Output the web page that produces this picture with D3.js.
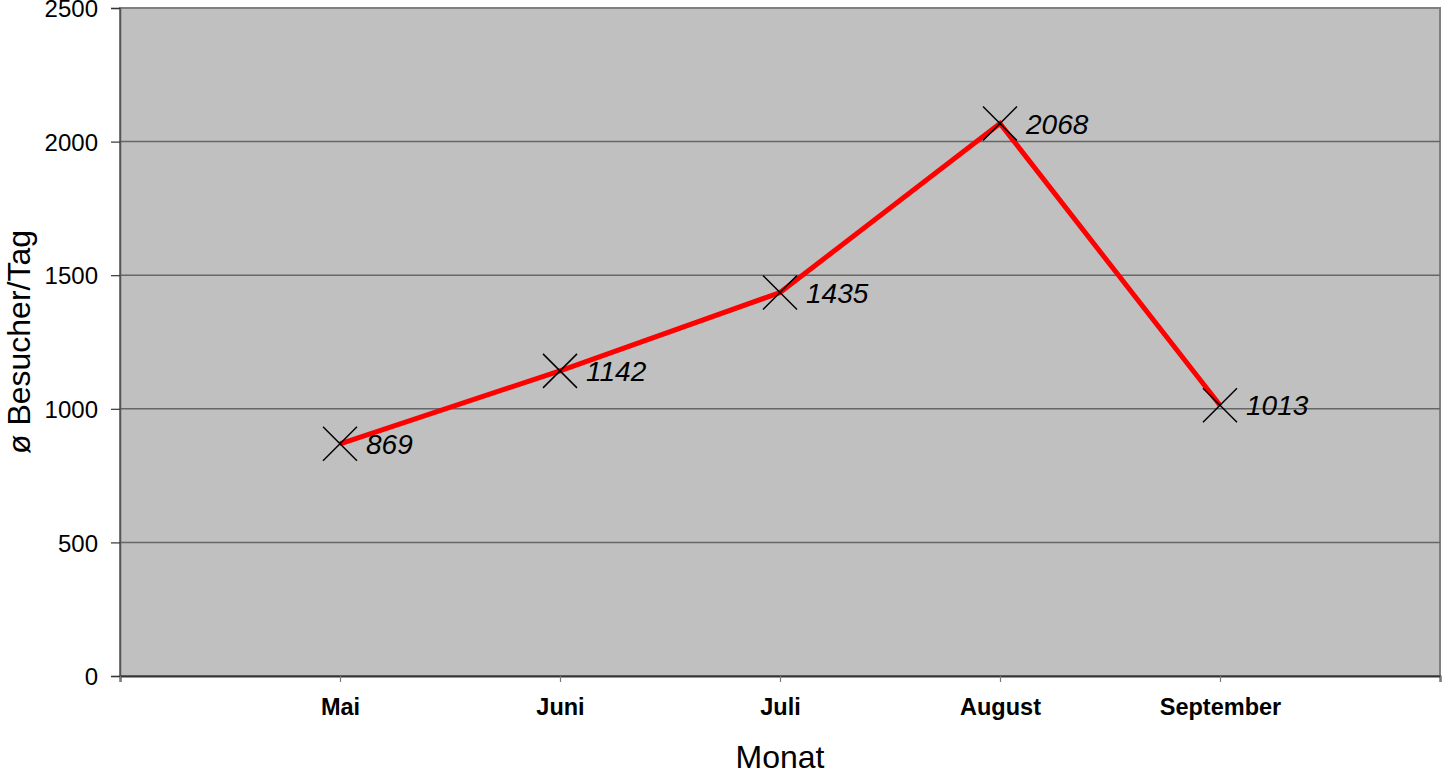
<!DOCTYPE html>
<html><head><meta charset="utf-8">
<script src="https://cdn.jsdelivr.net/npm/d3@7"></script>
<style>body{margin:0;background:#fff}svg{display:block}text{font-family:"Liberation Sans",Arial,sans-serif}</style>
</head><body><svg id="c" width="1446" height="773"></svg>
<script>
const months = ["Mai","Juni","Juli","August","September"];
const visitors = [869,1142,1435,2068,1013];
const yTicks = [0,500,1000,1500,2000,2500];
const yTitle = "ø Besucher/Tag";
const xTitle = "Monat";

const svg = d3.select("#c");
const L=120, R=1440, T=8, B=676;
const slots = ["_s", ...months, "_e"];
const x = d3.scalePoint().domain(slots).range([L,R]);
const y = d3.scaleLinear().domain([0,2500]).range([B,T]);

svg.append("rect").attr("x",L).attr("y",T).attr("width",R-L).attr("height",B-T)
  .attr("fill","#c0c0c0").attr("stroke","#808080").attr("stroke-width",2);

// gridlines
svg.append("g").selectAll("line").data(yTicks.filter(v=>v>0 && v<2500)).join("line")
  .attr("x1",L).attr("x2",R).attr("y1",d=>y(d)).attr("y2",d=>y(d))
  .attr("stroke","#666").attr("stroke-width",1.5);

// y axis
const ya = svg.append("g").attr("transform",`translate(${L},0)`)
  .call(d3.axisLeft(y).tickValues(yTicks).tickSize(9).tickPadding(13).tickFormat(d3.format("d")));
ya.select(".domain").attr("stroke","#555").attr("stroke-width",1.5);
ya.selectAll(".tick line").attr("stroke","#333").attr("stroke-width",1.2);
ya.selectAll("text").attr("font-size",24).attr("fill","#000").attr("dy","0.36em");

// x axis
const xa = svg.append("g").attr("transform",`translate(0,${B})`)
  .call(d3.axisBottom(x).tickSize(6).tickPadding(16).tickFormat(d=>d.startsWith("_")?"":d));
xa.select(".domain").attr("stroke","#333").attr("stroke-width",2);
xa.selectAll(".tick line").attr("stroke","#777").attr("stroke-width",1.2);
xa.selectAll("text").attr("font-size",23.5).attr("font-weight","bold").attr("fill","#000");

// line
const line = d3.line().x((d,i)=>x(months[i])).y(d=>y(d));
svg.append("path").datum(visitors).attr("d",line).attr("fill","none")
  .attr("stroke","#ff0000").attr("stroke-width",5).attr("stroke-linejoin","miter");

// markers
const s=17;
const mk = svg.append("g").selectAll("g").data(visitors).join("g")
  .attr("transform",(d,i)=>`translate(${x(months[i])},${y(d)})`);
mk.append("path").attr("d",`M${-s},${-s}L${s},${s}M${-s},${s}L${s},${-s}`)
  .attr("stroke","#000").attr("stroke-width",1.5);
mk.append("text").attr("x",26).attr("dy","0.36em").attr("font-size",28)
  .attr("font-style","italic").text(d=>d);

// titles
svg.append("text").attr("x",780).attr("y",768).attr("text-anchor","middle")
  .attr("font-size",32).text(xTitle);
svg.append("text").attr("transform","translate(30,342) rotate(-90)").attr("text-anchor","middle")
  .attr("font-size",32).text(yTitle);
</script></body></html>
